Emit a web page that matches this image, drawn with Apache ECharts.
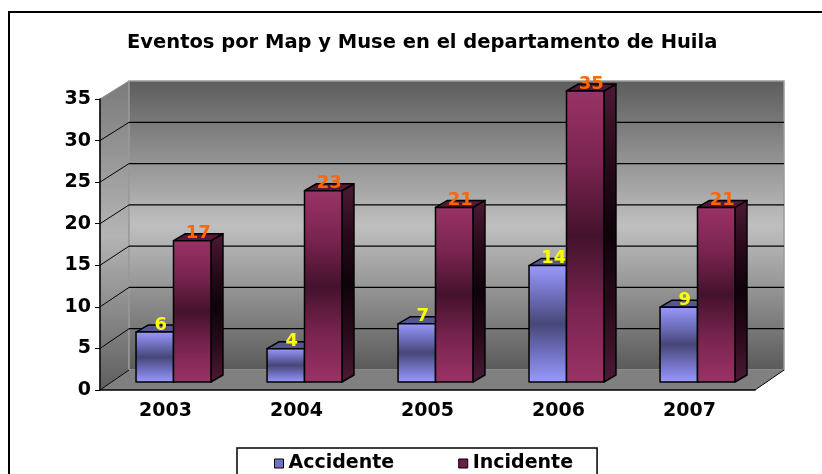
<!DOCTYPE html>
<html>
<head>
<meta charset="utf-8">
<script src="https://cdn.jsdelivr.net/npm/echarts@6/dist/echarts.min.js"></script>
<style>
html, body { margin: 0; padding: 0; background: #fff; }
#chart { width: 822px; height: 474px; }
</style>
</head>
<body>
<div id="chart"></div>
<script>
const years = ['2003', '2004', '2005', '2006', '2007']
const accidente = [6, 4, 7, 14, 9]
const incidente = [17, 23, 21, 35, 21]
const yTicks = [0, 5, 10, 15, 20, 25, 30, 35]

// oblique 3D offsets
const WALL_DX = 29, WALL_DY = -20, WALL_SCALE = 0.993
const BAR_DX = 8, BAR_DY = -8
const BOX_DX = 12, BOX_DY = -7
const FONT = 'DejaVu Sans'

const chart = echarts.init(document.getElementById('chart'))

const vGrad = (stops) => new echarts.graphic.LinearGradient(0, 0, 0, 1,
  stops.map((c, i) => ({ offset: i / (stops.length - 1), color: c })))

// back wall, side wall, floor and gridlines
const renderWalls = (params, api) => {
  const cs = params.coordSys
  const x0 = cs.x, x1 = cs.x + cs.width
  const y0 = api.coord([0, yTicks[0]])[1]
  const yMax = api.coord([0, yTicks[yTicks.length - 1]])[1]
  const back = (y) => y0 + WALL_DY + (y - y0) * WALL_SCALE
  const children = []

  children.push({
    type: 'polygon',
    shape: { points: [[x0, y0], [x0, yMax], [x0 + WALL_DX, back(yMax)], [x0 + WALL_DX, back(y0)]] },
    style: { fill: vGrad(['#7a7a7a', '#b4b4b4', '#5e5e5e']), stroke: '#8c8c8c', lineWidth: 1 }
  })
  children.push({
    type: 'rect',
    shape: { x: x0 + WALL_DX, y: back(yMax), width: x1 - x0, height: back(y0) - back(yMax) },
    style: { fill: vGrad(['#5c5c5c', '#8e8e8e', '#bfbfbf', '#8e8e8e', '#5a5a5a']), stroke: '#9a9a9a', lineWidth: 1.5 }
  })
  children.push({
    type: 'polygon',
    shape: { points: [[x0, y0], [x1, y0], [x1 + WALL_DX, back(y0)], [x0 + WALL_DX, back(y0)]] },
    style: { fill: '#808080', stroke: null }
  })
  children.push({
    type: 'line',
    shape: { x1: x1, y1: y0, x2: x1 + WALL_DX, y2: back(y0) },
    style: { stroke: '#000', lineWidth: 1 }
  })

  yTicks.forEach((v) => {
    const y = api.coord([0, v])[1]
    if (v !== yTicks[yTicks.length - 1]) {
      children.push({
        type: 'line',
        shape: { x1: x0, y1: y, x2: x0 + WALL_DX, y2: back(y) },
        style: { stroke: '#000', lineWidth: 1 }
      })
    }
    if (v !== yTicks[0] && v !== yTicks[yTicks.length - 1]) {
      children.push({
        type: 'line',
        shape: { x1: x0 + WALL_DX, y1: back(y), x2: x1 + WALL_DX, y2: back(y) },
        style: { stroke: '#000', lineWidth: 1.2 }
      })
    }
  })
  return { type: 'group', children }
}

// one 3D box per category, side = -1 left bar, 1 right bar
const makeBar = (side, front, top, right, labelColor) => (params, api) => {
  const idx = api.value(0)
  const val = api.value(1)
  const pTop = api.coord([idx, val])
  const pBase = api.coord([idx, 0])
  const w = api.size([1, 0])[0] * 0.286
  const cx = pTop[0] + BAR_DX
  const xa = side < 0 ? cx - w : cx
  const xb = xa + w
  const yt = pTop[1] + BAR_DY
  const yb = pBase[1] + BAR_DY
  const stroke = { stroke: '#000', lineWidth: 1.5, lineJoin: 'round' }
  return {
    type: 'group',
    children: [
      {
        type: 'polygon',
        shape: { points: [[xb, yt], [xb + BOX_DX, yt + BOX_DY], [xb + BOX_DX, yb + BOX_DY], [xb, yb]] },
        style: Object.assign({ fill: right }, stroke)
      },
      {
        type: 'polygon',
        shape: { points: [[xa, yt], [xb, yt], [xb + BOX_DX, yt + BOX_DY], [xa + BOX_DX, yt + BOX_DY]] },
        style: Object.assign({ fill: top }, stroke)
      },
      {
        type: 'rect',
        shape: { x: xa, y: yt, width: w, height: yb - yt },
        style: Object.assign({ fill: front }, stroke)
      },
      {
        type: 'text',
        style: {
          text: String(val),
          x: (xa + xb) / 2 + 6,
          y: yt - 7,
          align: 'center',
          verticalAlign: 'middle',
          fill: labelColor,
          fontFamily: FONT,
          fontWeight: 'bold',
          fontSize: 18
        }
      }
    ]
  }
}

const option = {
  animation: false,
  backgroundColor: '#fff',
  title: {
    text: 'Eventos por Map y Muse en el departamento de Huila',
    left: 127,
    top: 33,
    padding: 0,
    textStyle: { fontFamily: FONT, fontWeight: 'bold', fontSize: 19.5, color: '#000' }
  },
  legend: {
    data: ['Accidente', 'Incidente'],
    left: 237,
    top: 448,
    icon: 'rect',
    itemWidth: 9,
    itemHeight: 9,
    itemGap: 64,
    padding: [6, 24, 12, 37],
    borderColor: '#000',
    borderWidth: 1.5,
    itemStyle: { borderColor: '#000', borderWidth: 1 },
    textStyle: { fontFamily: FONT, fontWeight: 'bold', fontSize: 19, color: '#000' }
  },
  graphic: [
    {
      type: 'rect',
      shape: { x: 9, y: 12, width: 830, height: 480 },
      style: { fill: null, stroke: '#000', lineWidth: 2 },
      z: 100
    }
  ],
  grid: { left: 100, top: 99, width: 655, height: 291 },
  xAxis: {
    type: 'category',
    data: years,
    z: 5,
    axisLine: { lineStyle: { color: '#000', width: 1.5 } },
    axisTick: { length: 5, lineStyle: { color: '#000', width: 1 } },
    axisLabel: { margin: 12, color: '#000', fontFamily: FONT, fontWeight: 'bold', fontSize: 19 }
  },
  yAxis: {
    type: 'value',
    min: 0,
    max: 35,
    interval: 5,
    z: 5,
    axisLine: { show: true, lineStyle: { color: '#000', width: 1.5 } },
    axisTick: { show: true, length: 5, lineStyle: { color: '#000', width: 1 } },
    axisLabel: { margin: 9, color: '#000', fontFamily: FONT, fontWeight: 'bold', fontSize: 19 },
    splitLine: { show: false }
  },
  series: [
    {
      name: 'walls',
      type: 'custom',
      silent: true,
      z: 1,
      renderItem: renderWalls,
      data: [[0, 0]]
    },
    {
      name: 'Accidente',
      type: 'custom',
      z: 2,
      itemStyle: { color: '#7272c4' },
      renderItem: makeBar(-1,
        vGrad(['#9a9aff', '#7070c0', '#474778', '#7070c0', '#9a9aff']),
        '#56568f', '#3a3a66', '#ffff00'),
      data: accidente.map((v, i) => [i, v])
    },
    {
      name: 'Incidente',
      type: 'custom',
      z: 3,
      itemStyle: { color: '#6e1e48' },
      renderItem: makeBar(1,
        vGrad(['#993366', '#7a2450', '#44122c', '#7a2450', '#993366']),
        '#55183a', vGrad(['#4d1a36', '#2a0a1b', '#0f0209', '#2a0a1b', '#4d1a36']), '#ff6600'),
      data: incidente.map((v, i) => [i, v])
    }
  ]
}

chart.setOption(option)
</script>
</body>
</html>
